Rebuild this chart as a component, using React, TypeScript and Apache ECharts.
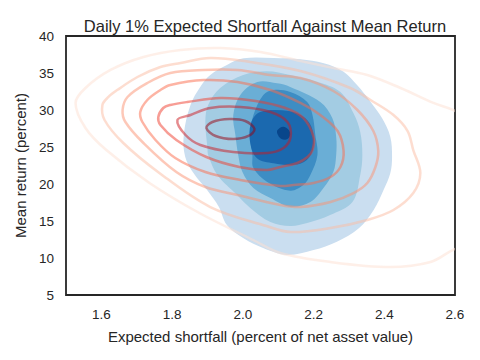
import React, { useEffect, useRef } from 'react';
import * as echarts from 'echarts';

type Pt = [number, number];

// Axis ticks
const X_TICK_LABELS = ['1.6', '1.8', '2.0', '2.2', '2.4', '2.6'];
const Y_TICKS = [5, 10, 15, 20, 25, 30, 35, 40];

// Filled density levels (Blues), outermost first — [expected shortfall, mean return]
const BLUE_LEVEL_1: Pt[] = [
  [2.002, 36.98], [2.087, 37.03], [2.163, 36.85], [2.229, 36.31], [2.285, 35.18], [2.323, 33.38],
  [2.361, 31.13], [2.394, 28.87], [2.417, 26.4], [2.422, 23.69], [2.417, 21.44], [2.398, 19.19],
  [2.37, 16.49], [2.328, 14.01], [2.266, 12.21], [2.2, 11.08], [2.125, 10.41], [2.059, 11.31],
  [2.002, 12.66], [1.955, 14.46], [1.932, 16.94], [1.899, 19.19], [1.861, 21.44], [1.837, 23.69],
  [1.833, 26.62], [1.852, 30.68], [1.88, 33.15], [1.908, 34.73], [1.955, 36.08],
];
const BLUE_LEVEL_2: Pt[] = [
  [2.001, 34.73], [2.068, 35.23], [2.134, 34.73], [2.21, 33.83], [2.276, 32.43], [2.313, 29.55],
  [2.332, 27.03], [2.338, 23.92], [2.332, 21.22], [2.31, 17.57], [2.247, 15.81], [2.182, 14.73],
  [2.134, 14.32], [2.078, 14.86], [2.021, 16.76], [1.984, 18.51], [1.928, 21.22], [1.902, 23.92],
  [1.9, 24.86], [1.894, 28.38], [1.902, 30.68], [1.936, 32.97],
];
const BLUE_LEVEL_3: Pt[] = [
  [2.041, 33.78], [2.097, 33.6], [2.134, 33.11], [2.219, 31.08], [2.253, 28.92], [2.264, 26.4],
  [2.264, 23.92], [2.256, 21.62], [2.228, 19.46], [2.191, 17.57], [2.134, 16.94], [2.078, 18.11],
  [2.03, 19.46], [1.999, 21.62], [1.987, 23.92], [1.979, 26.62], [1.973, 29.32], [1.993, 32.03],
];
const BLUE_LEVEL_4: Pt[] = [
  [2.058, 32.03], [2.087, 32.7], [2.134, 32.43], [2.182, 31.08], [2.197, 29.32], [2.205, 26.62],
  [2.211, 23.92], [2.191, 21.22], [2.171, 19.86], [2.134, 19.1], [2.069, 20.27], [2.03, 22.16],
  [2.027, 23.92], [2.021, 26.62], [2.03, 29.32],
];
const BLUE_LEVEL_5: Pt[] = [
  [2.049, 29.73], [2.134, 29.82], [2.177, 28.87], [2.197, 27.3], [2.2, 25.0], [2.181, 23.24],
  [2.144, 22.57], [2.087, 22.79], [2.04, 23.47], [2.021, 25.5], [2.023, 28.2],
];
const BLUE_LEVEL_6: Pt[] = [
  [2.098, 27.3], [2.114, 27.75], [2.13, 27.3], [2.134, 26.62], [2.125, 26.04], [2.108, 26.13], [2.098, 26.76],
];

// Line density levels (Reds), outermost first
const RED_LEVEL_1: Pt[] = [
  [1.527, 30.95], [1.555, 32.97], [1.626, 35.41], [1.719, 37.16], [1.824, 38.11], [1.937, 38.38],
  [2.05, 37.84], [2.163, 36.62], [2.256, 35.68], [2.352, 34.73], [2.446, 32.97], [2.539, 30.95],
  [2.601, 29.86], [2.658, 27.97], [2.686, 19.86], [2.658, 12.43], [2.593, 11.08], [2.531, 9.46],
  [2.417, 8.78], [2.248, 9.46], [2.106, 10.68], [2.03, 12.43], [1.877, 16.08], [1.736, 20.14],
  [1.614, 24.59], [1.555, 27.57],
];
const RED_LEVEL_2: Pt[] = [
  [1.603, 30.68], [1.62, 31.76], [1.645, 32.7], [1.702, 34.46], [1.767, 35.81], [1.824, 36.35],
  [1.908, 37.03], [2.021, 36.49], [2.163, 35.27], [2.304, 32.97], [2.361, 31.35], [2.426, 29.32],
  [2.466, 27.16], [2.482, 24.59], [2.502, 21.49], [2.482, 18.78], [2.426, 16.49], [2.352, 15.14],
  [2.248, 14.05], [2.135, 13.51], [2.067, 14.32], [1.908, 16.89], [1.764, 21.49], [1.662, 25.54],
  [1.609, 28.65],
];
const RED_LEVEL_3: Pt[] = [
  [1.66, 30.0], [1.674, 31.76], [1.73, 33.65], [1.795, 35.0], [1.889, 35.41], [1.985, 35.41],
  [2.078, 34.73], [2.163, 34.32], [2.256, 32.57], [2.324, 30.0], [2.369, 27.16], [2.383, 24.46],
  [2.375, 22.3], [2.352, 20.14], [2.313, 18.78], [2.248, 17.57], [2.163, 16.89], [2.106, 17.16],
  [1.985, 18.51], [1.894, 19.59], [1.812, 21.62], [1.719, 25.54], [1.668, 28.38],
];
const RED_LEVEL_4: Pt[] = [
  [1.71, 29.73], [1.73, 31.35], [1.767, 32.7], [1.795, 33.38], [1.889, 34.05], [1.985, 33.78],
  [2.078, 32.7], [2.163, 30.95], [2.219, 29.32], [2.268, 27.16], [2.285, 24.46], [2.276, 22.3],
  [2.248, 20.95], [2.2, 20.14], [2.143, 19.86], [2.106, 19.73], [1.993, 20.54], [1.894, 21.62],
  [1.809, 23.51], [1.753, 25.95], [1.716, 28.38],
];
const RED_LEVEL_5: Pt[] = [
  [1.761, 29.05], [1.775, 30.27], [1.795, 30.68], [1.843, 31.08], [1.937, 31.62], [2.036, 31.22],
  [2.12, 30.27], [2.171, 28.92], [2.2, 26.35], [2.197, 24.59], [2.183, 23.65], [2.154, 22.84],
  [2.106, 22.3], [2.067, 21.89], [1.99, 22.3], [1.897, 23.65], [1.812, 25.95], [1.767, 27.97],
];
const RED_LEVEL_6: Pt[] = [
  [1.815, 28.65], [1.852, 29.32], [1.908, 30.27], [1.993, 30.41], [2.078, 29.73], [2.126, 28.38],
  [2.135, 26.35], [2.115, 24.86], [2.07, 24.19], [1.973, 24.32], [1.88, 25.27], [1.838, 26.62],
];
const RED_LEVEL_7: Pt[] = [
  [1.897, 27.57], [1.914, 28.38], [1.962, 28.78], [2.007, 28.51], [2.033, 27.43], [2.016, 26.49],
  [1.973, 26.08], [1.923, 26.49],
];

const blueLevels = [BLUE_LEVEL_1, BLUE_LEVEL_2, BLUE_LEVEL_3, BLUE_LEVEL_4, BLUE_LEVEL_5, BLUE_LEVEL_6];
const blueColors = ['#cadef0', '#a3cce3', '#6aaed6', '#3d8dc4', '#1b69af', '#08468b'];
const redLevels = [RED_LEVEL_1, RED_LEVEL_2, RED_LEVEL_3, RED_LEVEL_4, RED_LEVEL_5, RED_LEVEL_6, RED_LEVEL_7];
const redColors = [
  'rgba(254,224,210,0.5)', 'rgba(252,187,161,0.5)', 'rgba(252,146,114,0.5)', 'rgba(251,106,74,0.5)',
  'rgba(239,59,44,0.5)', 'rgba(203,24,29,0.5)', 'rgba(153,0,13,0.5)',
];

const TEXT = '#262626';
const FONT = '"Liberation Sans", Arial, sans-serif';

export default function App() {
  const ref = useRef<HTMLDivElement>(null);
  useEffect(() => {
    const chart = echarts.init(ref.current!, null, { renderer: 'svg' });
    chart.setOption({
      animation: false,
      backgroundColor: '#ffffff',
      textStyle: { fontFamily: FONT },
      title: {
        text: 'Daily 1% Expected Shortfall Against Mean Return',
        left: 260,
        top: 12,
        textAlign: 'center',
        textStyle: { fontFamily: FONT, fontSize: 16.5, fontWeight: 'normal', color: TEXT },
      },
      grid: {
        left: 66, top: 36, right: 25, bottom: 65,
        show: true, borderColor: TEXT, borderWidth: 1.8, backgroundColor: 'transparent',
      },
      xAxis: {
        type: 'value', min: 1.5, max: 2.6, interval: 0.1,
        name: 'Expected shortfall (percent of net asset value)',
        nameLocation: 'middle', nameGap: 34,
        nameTextStyle: { fontFamily: FONT, fontSize: 15, color: TEXT },
        axisLine: { show: false }, axisTick: { show: false }, splitLine: { show: false },
        axisLabel: {
          fontFamily: FONT, fontSize: 13.5, color: TEXT, margin: 12,
          formatter: (v: number) => {
            const s = v.toFixed(1);
            return X_TICK_LABELS.includes(s) ? s : '';
          },
        },
      },
      yAxis: {
        type: 'value', min: Y_TICKS[0], max: Y_TICKS[Y_TICKS.length - 1], interval: 5,
        name: 'Mean return (percent)',
        nameLocation: 'middle', nameGap: 37,
        nameTextStyle: { fontFamily: FONT, fontSize: 15, color: TEXT },
        axisLine: { show: false }, axisTick: { show: false }, splitLine: { show: false },
        axisLabel: { fontFamily: FONT, fontSize: 13.5, color: TEXT, margin: 12 },
      },
      series: [
        {
          type: 'custom',
          coordinateSystem: 'cartesian2d',
          clip: true,
          data: blueLevels.map((c, i) => [c[0][0], c[0][1], i]),
          renderItem: (params: any, api: any) => {
            const i = params.dataIndex;
            const pts = blueLevels[i].map((p) => api.coord(p));
            return {
              type: 'polygon',
              shape: { points: pts, smooth: 0.35 },
              style: { fill: blueColors[i], stroke: 'none' },
            };
          },
          z: 1,
        },
        {
          type: 'custom',
          coordinateSystem: 'cartesian2d',
          clip: true,
          data: redLevels.map((c, i) => [c[0][0], c[0][1], i]),
          renderItem: (params: any, api: any) => {
            const i = params.dataIndex;
            const pts = redLevels[i].map((p) => api.coord(p));
            return {
              type: 'polygon',
              shape: { points: pts, smooth: 0.35 },
              style: { fill: 'none', stroke: redColors[i], lineWidth: 2.5 },
            };
          },
          z: 2,
        },
      ],
    });
    return () => chart.dispose();
  }, []);
  return (
    <div
      ref={ref}
      style={{ position: 'fixed', left: 0, top: 0, width: 480, height: 360, background: '#fff' }}
    />
  );
}
